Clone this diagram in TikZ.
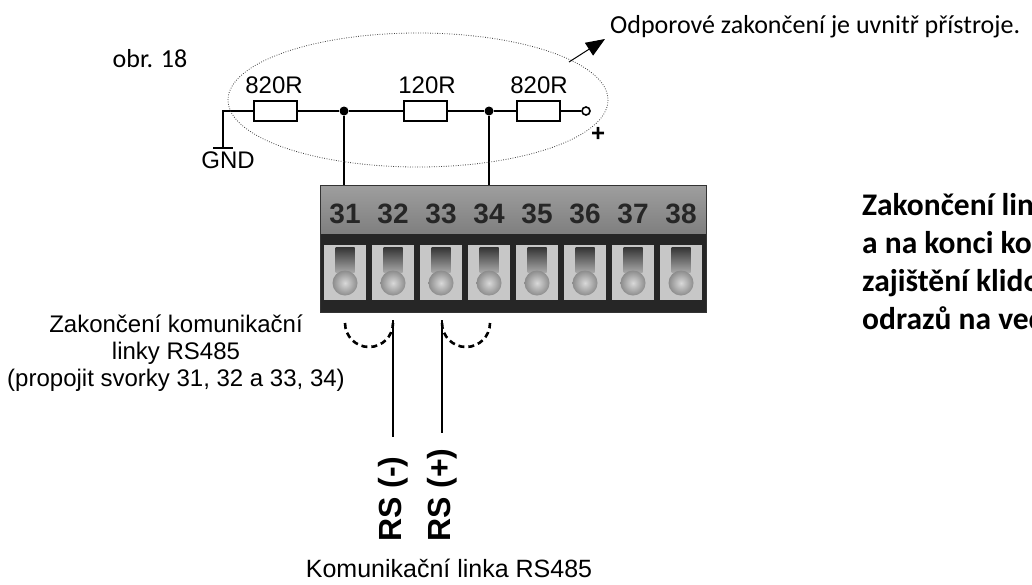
\documentclass[tikz,border=0pt]{standalone}
\usepackage{fontspec}
\setmainfont{Liberation Sans}
\newfontfamily\carlito{Carlito}
\usetikzlibrary{arrows.meta}

\begin{document}
\begin{tikzpicture}[x=1pt,y=-1pt,
  every node/.style={inner sep=0pt},
  txt/.style={font=\fontsize{24}{28}\selectfont},
  cal/.style={font=\carlito\fontsize{26}{30}\selectfont},
  calb/.style={font=\carlito\bfseries\fontsize{31.5}{36}\selectfont, anchor=base west},
  pinno/.style={font=\bfseries\fontsize{28}{32}\selectfont, text=black!85, anchor=base},
  rs/.style={font=\bfseries\fontsize{32}{36}\selectfont, rotate=90, anchor=west},
  resistor/.style={draw, fill=white, line width=2pt, minimum width=43pt, minimum height=20pt},
  wire/.style={line width=2.5pt},
  dot/.style={circle, fill=black, minimum size=9pt},
  bridge/.style={line width=2.6pt, dash pattern=on 6pt off 4pt},
]

  \clip (0,0) rectangle (1032,584);
  \fill[white] (0,0) rectangle (1032,584);

  % terminal block
  \fill[black!85] (320,185) rectangle (706,312);
  \shade[top color=black!38, bottom color=black!50] (320,185) rectangle (706,233);
  \foreach \n [count=\i from 0] in {31,...,38} {
    \fill[black!22] (324+48*\i,245) rectangle ++(42,55);
    \shade[top color=black!80, bottom color=black!35] (335.5+48*\i,247) rectangle ++(19,25);
    \shade[inner color=black!15, outer color=black!45] (345+48*\i,283) circle (12.5);
    \node[pinno] (n\n) at (345+48*\i,223) {\n};
  }
  \draw[black!80, line width=0.8pt] (320,185) rectangle (706,312);

  % resistor chain
  \node[resistor] (r1) at (275.5,111) {};
  \node[resistor] (r2) at (425,111) {};
  \node[resistor] (r3) at (538,111) {};
  \node[dot] (j1) at (344,111) {};
  \node[dot] (j2) at (489,111) {};
  \node[circle, draw, line width=1.6pt, fill=white, minimum size=8pt] (pl) at (586,111) {};
  \coordinate (gnd) at (223,148);
  \coordinate (gl) at (213,148);
  \coordinate (gr) at (233,148);
  \coordinate (t31) at (344,185);
  \coordinate (t34) at (489,185);

  \draw[wire] (gnd) |- (r1.west);
  \draw[wire] (gl) -- (gr);
  \draw[wire] (r1) -- (j1) -- (r2) -- (j2) -- (r3) -- (pl);
  \draw[wire] (j1) -- (t31);
  \draw[wire] (j2) -- (t34);

  % resistor values
  \node[txt, anchor=base] (v1) at (274,93) {820R};
  \node[txt, anchor=base] (v2) at (427,93) {120R};
  \node[txt, anchor=base] (v3) at (539,93) {820R};
  \node[txt, anchor=base] (gndl) at (228,168) {GND};
  \node[txt, font=\bfseries\fontsize{24}{28}\selectfont] (plus) at (598,134) {+};

  % termination ellipse
  \draw[black!75, line width=0.8pt, dash pattern=on 0.8pt off 1.6pt] (418,100) ellipse [x radius=190, y radius=67];
  \coordinate (ea) at (569,62);
  \coordinate (tip) at (605,39);
  \draw[line width=1pt, -{Triangle[length=19pt,width=15pt]}] (ea) -- (tip);
  \node[cal, anchor=base west] (note) at (610,33) {Odporové zakončení je uvnitř přístroje.};
  \node[cal, anchor=base] (fig) at (150,67) {obr. 18};

  % bridges and line
  \coordinate (b31) at (345,323);
  \coordinate (b33) at (442,323);
  \draw[bridge] (b31) arc[start angle=180, end angle=0, radius=24];
  \draw[bridge] (b33) arc[start angle=180, end angle=0, radius=24];
  \coordinate (w1) at (393,320);
  \coordinate (w1e) at (393,437);
  \coordinate (w2) at (442,320);
  \coordinate (w2e) at (442,433);
  \draw[line width=2pt] (w1) -- (w1e);
  \draw[line width=2pt] (w2) -- (w2e);
  \node[rs] (rsm) at (393,542) {RS (-)};
  \node[rs] (rsp) at (442,542) {RS (+)};
  \node[txt, font=\fontsize{25}{28}\selectfont, anchor=base] (link) at (449,577) {Komunikační linka RS485};

  % left note
  \node[txt, anchor=base] (lab1) at (176,332) {Zakončení komunikační};
  \node[txt, anchor=base] (lab2) at (176,359) {linky RS485};
  \node[txt, anchor=base] (lab3) at (176,386) {(propojit svorky 31, 32 a 33, 34)};

  % right note
  \node[calb] (k1) at (862,215) {Zakončení linky};
  \node[calb] (k2) at (862,253) {a na konci komunikační};
  \node[calb] (k3) at (862,291) {zajištění klidového};
  \node[calb] (k4) at (862,329) {odrazů na vedení};
\end{tikzpicture}
\end{document}
